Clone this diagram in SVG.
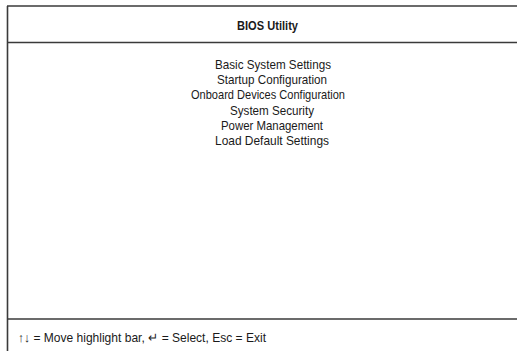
<svg xmlns="http://www.w3.org/2000/svg" width="517" height="351" viewBox="0 0 517 351">
<style>
.frame{stroke:#3a3a3a;stroke-width:1.6;fill:none}
.t{font-family:"Liberation Sans",Arial,sans-serif;font-size:13px;fill:#1a1a1a}
.m{text-anchor:middle}
.b{font-weight:bold}
</style>
<rect width="517" height="351" fill="#fff"/>
<g id="frame">
<line class="frame" x1="7" y1="6" x2="517" y2="6"/>
<line class="frame" x1="7.5" y1="6" x2="7.5" y2="351"/>
<line class="frame" x1="7" y1="42.5" x2="517" y2="42.5"/>
<line class="frame" x1="7" y1="319" x2="517" y2="319"/>
</g>
<g id="header">
<text class="t m b" x="267.5" y="30" textLength="61" lengthAdjust="spacingAndGlyphs">BIOS Utility</text>
</g>
<g id="menu">
<text class="t m" x="273" y="69" textLength="116" lengthAdjust="spacingAndGlyphs">Basic System Settings</text>
<text class="t m" x="272" y="84" textLength="110" lengthAdjust="spacingAndGlyphs">Startup Configuration</text>
<text class="t m" x="268" y="99" textLength="154" lengthAdjust="spacingAndGlyphs">Onboard Devices Configuration</text>
<text class="t m" x="272" y="115" textLength="84" lengthAdjust="spacingAndGlyphs">System Security</text>
<text class="t m" x="272" y="130" textLength="102" lengthAdjust="spacingAndGlyphs">Power Management</text>
<text class="t m" x="272" y="145" textLength="114" lengthAdjust="spacingAndGlyphs">Load Default Settings</text>
</g>
<g id="footer">
<text class="t" x="18" y="342" textLength="248" lengthAdjust="spacingAndGlyphs">↑↓ = Move highlight bar, ↵ = Select, Esc = Exit</text>
</g>
</svg>
